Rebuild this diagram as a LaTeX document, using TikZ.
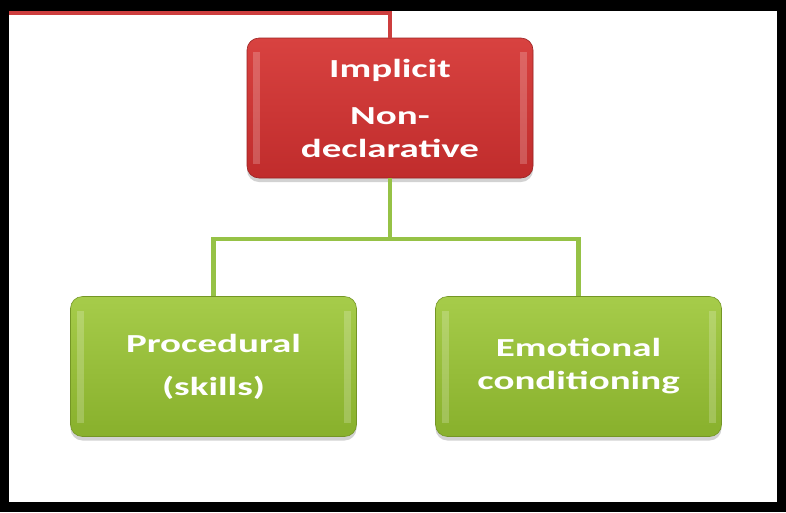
\documentclass[tikz,border=0pt]{standalone}
\usepackage{fontspec}
\setmainfont{Carlito}
\newfontfamily\boxfont[FakeStretch=1.5]{Carlito Bold}
\usepackage{xcolor}
\usetikzlibrary{positioning,shadows}

\definecolor{redtop}{RGB}{216,66,64}
\definecolor{redbot}{RGB}{192,44,44}
\definecolor{redln}{RGB}{205,62,62}
\definecolor{greentop}{RGB}{166,204,74}
\definecolor{greenbot}{RGB}{136,176,44}
\definecolor{greenln}{RGB}{150,194,70}

\begin{document}
\begin{tikzpicture}[x=1pt,y=-1pt,
            box/.style={rounded corners=12pt, minimum width=286pt, minimum height=140pt,
                 inner sep=0pt, align=center, text=white,
                 font=\boxfont\fontsize{26}{33}\selectfont,
                 drop shadow={shadow xshift=0pt, shadow yshift=-4pt, opacity=.35},
                 path picture={
                   \fill[white, opacity=.2, sharp corners] ([xshift=6pt,yshift=-14pt]path picture bounding box.north west)
                     rectangle ([xshift=13pt,yshift=14pt]path picture bounding box.south west);
                   \fill[white, opacity=.2, sharp corners] ([xshift=-6pt,yshift=-14pt]path picture bounding box.north east)
                     rectangle ([xshift=-13pt,yshift=14pt]path picture bounding box.south east);}},
            redbox/.style={box, top color=redtop, bottom color=redbot, draw=redbot!80!black, line width=.6pt},
            greenbox/.style={box, top color=greentop, bottom color=greenbot, draw=greenbot!85!black, line width=.6pt},
            redline/.style={draw=redln, line width=3.5pt},
            greenline/.style={draw=greenln, line width=4.5pt}
            ]
            \useasboundingbox (0,0) rectangle (786,512);

            % Frame
            \fill[black] (0,0) rectangle (786,512);
            \fill[white] (9,11) rectangle (777,502);

            % Nodes with manual coordinates
            \node[redbox] (impl) at (390,108) {Implicit\\[14pt]Non-\\declarative};
            \node[greenbox] (proc) at (213.5,366.5) {Procedural\\[10pt](skills)};
            \node[greenbox] (emo) at (578.5,366.5) {Emotional\\conditioning};
            \coordinate (lefttop) at (9,13);
            \coordinate (fork) at (390,239);

            % Connectors
            \draw[redline] (lefttop) -| (impl.north);
            \draw[greenline] (impl.south) -- (fork);
            \draw[greenline] (proc.north) |- (fork) -| (emo.north);
        \end{tikzpicture}
\end{document}
